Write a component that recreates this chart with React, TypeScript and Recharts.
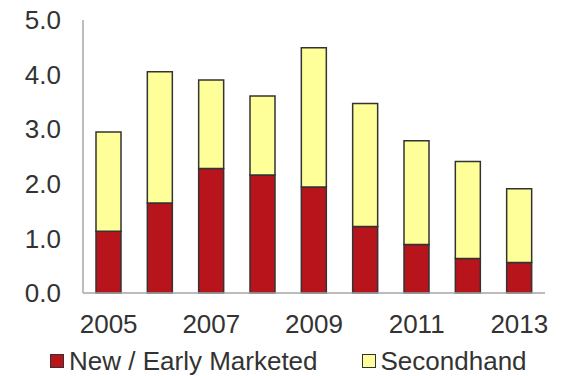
import { BarChart, Bar, XAxis, YAxis, Legend } from 'recharts'

const years = ['2005', '2006', '2007', '2008', '2009', '2010', '2011', '2012', '2013']
const newEarly = [1.13, 1.65, 2.28, 2.16, 1.94, 1.22, 0.89, 0.63, 0.56]
const secondhand = [1.82, 2.4, 1.62, 1.45, 2.55, 2.25, 1.9, 1.78, 1.35]
const yTicks = [0, 1, 2, 3, 4, 5]

const RED = '#B8141C'
const YELLOW = '#FFFF99'
const TEXT = '#333333'
const AXIS = '#A6A6A6'
const FONT = '"Liberation Sans", Arial, sans-serif'

const data = years.map((year, i) => ({
  year,
  newEarly: newEarly[i],
  secondhand: secondhand[i],
}))

const legendItems = [
  { label: 'New / Early Marketed', color: RED },
  { label: 'Secondhand', color: YELLOW },
]

const CustomLegend = () => (
  <div
    style={{
      display: 'flex',
      alignItems: 'center',
      height: 26,
      paddingLeft: 50,
      gap: 44,
      fontFamily: FONT,
      fontSize: 26,
      color: TEXT,
      lineHeight: '26px',
    }}
  >
    {legendItems.map((item) => (
      <div key={item.label} style={{ display: 'flex', alignItems: 'center', gap: 5 }}>
        <span
          style={{
            width: 12,
            height: 12,
            background: item.color,
            border: '1.5px solid #333',
            display: 'inline-block',
          }}
        />
        <span>{item.label}</span>
      </div>
    ))}
  </div>
)

export default function App() {
  return (
    <div style={{ position: 'absolute', left: 0, top: 0, width: 567, height: 376, background: '#fff' }}>
      <BarChart
        width={567}
        height={376}
        data={data}
        margin={{ top: 20, right: 22, left: 0, bottom: 2 }}
      >
        <XAxis
          dataKey="year"
          interval={1}
          tickLine={false}
          tickSize={0}
          tickMargin={22}
          height={55}
          axisLine={{ stroke: AXIS, strokeWidth: 1.5 }}
          tick={{ fill: TEXT, fontSize: 26, fontFamily: FONT }}
        />
        <YAxis
          domain={[0, 5]}
          ticks={yTicks}
          width={83}
          tickLine={false}
          tickSize={0}
          tickMargin={22}
          axisLine={{ stroke: AXIS, strokeWidth: 1.5 }}
          tickFormatter={(v) => Number(v).toFixed(1)}
          tick={{ fill: TEXT, fontSize: 26, fontFamily: FONT }}
        />
        <Legend verticalAlign="bottom" align="left" content={<CustomLegend />} wrapperStyle={{ left: 0, width: 567 }} />
        <Bar
          dataKey="newEarly"
          stackId="a"
          fill={RED}
          stroke="#333"
          strokeWidth={1.5}
          barSize={25}
          isAnimationActive={false}
        />
        <Bar
          dataKey="secondhand"
          stackId="a"
          fill={YELLOW}
          stroke="#333"
          strokeWidth={1.5}
          barSize={25}
          isAnimationActive={false}
        />
      </BarChart>
    </div>
  )
}
